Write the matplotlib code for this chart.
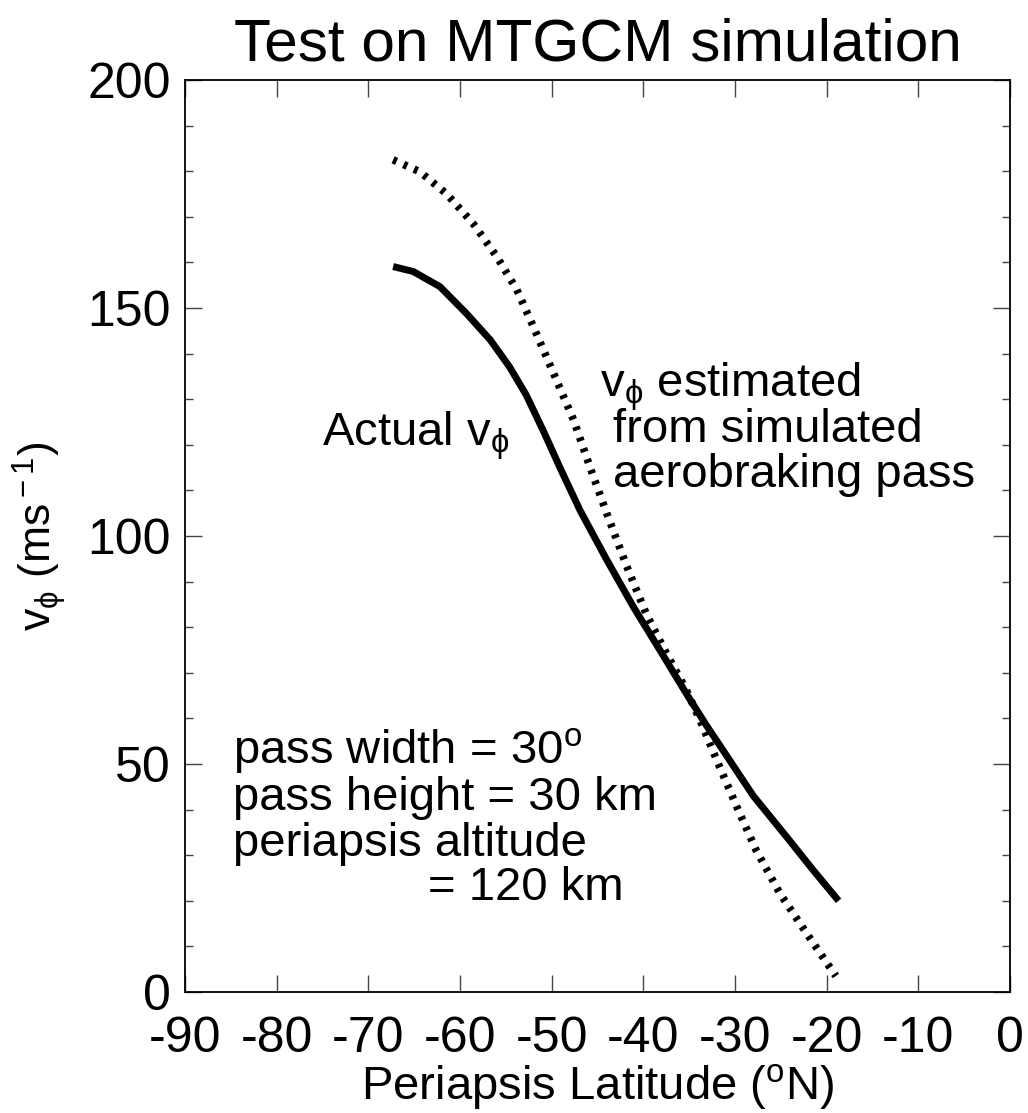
import numpy as np
import matplotlib
matplotlib.use("Agg")
import matplotlib.pyplot as plt
from matplotlib.ticker import MultipleLocator

plt.rcParams['font.family'] = ['Liberation Sans', 'DejaVu Sans']
plt.rcParams['mathtext.fontset'] = 'custom'
plt.rcParams['mathtext.rm'] = 'Liberation Sans'
plt.rcParams['mathtext.it'] = 'Liberation Sans'
plt.rcParams['axes.unicode_minus'] = False

# actual v_phi from the simulation (solid)
actual_lat = [-67.3, -65.1, -62.2, -59.3, -56.7, -54.6, -52.8, -50.9, -49.1, -46.9,
              -44.0, -41.1, -38.2, -35.3, -33.1, -31.7, -28.0, -24.4, -21.5, -18.7]
actual_v = [159.1, 158.0, 154.7, 148.8, 143.0, 137.1, 131.0, 123.0, 115.0, 105.6,
            94.8, 84.5, 75.0, 65.4, 58.4, 54.2, 43.0, 34.1, 26.8, 20.0]

# v_phi estimated from simulated aerobraking pass (dotted)
est_lat = [-67.3, -64.4, -61.5, -58.6, -56.0, -53.8, -52.0, -49.8, -47.6, -45.8,
           -44.0, -41.8, -39.7, -37.5, -35.3, -33.6, -32.0, -29.8, -27.7, -25.1,
           -22.2, -19.0]
est_v = [182.5, 179.9, 175.1, 168.6, 161.3, 154.0, 145.9, 135.7, 125.4, 115.0,
         105.0, 93.3, 83.0, 74.3, 66.2, 58.6, 50.9, 40.6, 31.1, 21.6,
         12.9, 3.5]

fig = plt.figure(figsize=(10.28, 11.13), dpi=100)
ax = fig.add_axes([0.18, 0.1087, 0.8025, 0.8194])

ax.plot(actual_lat, actual_v, color='black', lw=5, solid_capstyle='butt',
        solid_joinstyle='round')
ax.plot(est_lat, est_v, color='black', lw=5.5, linestyle=(0, (0.5, 1.0)),
        dash_capstyle='butt')

ax.set_xlim(-90, 0)
ax.set_ylim(0, 200)
ax.xaxis.set_major_locator(MultipleLocator(10))
ax.yaxis.set_major_locator(MultipleLocator(50))
ax.yaxis.set_minor_locator(MultipleLocator(10))
ax.tick_params(which='both', direction='in', top=True, right=True,
               labelsize=36, width=1.0, color='#444444')
ax.tick_params(which='major', length=12)
ax.tick_params(which='minor', length=6)
ax.tick_params(axis='x', pad=17)
ax.tick_params(axis='y', pad=10)
for s in ax.spines.values():
    s.set_linewidth(1.3)

ax.set_xlabel(r'Periapsis Latitude ($^{\rm o}$N)', fontsize=34, labelpad=0)
ax.set_ylabel(r'v$_\phi$ (ms$^{\rm -1}$)', fontsize=32, labelpad=14)
ax.set_title('Test on MTGCM simulation', fontsize=43.5, pad=14)

fs = 34
ax.text(-75.1, 119.8, r'Actual v$_\phi$', fontsize=fs)
ax.text(-44.7, 130.5, r'v$_\phi$ estimated', fontsize=fs)
ax.text(-43.3, 120.6, 'from simulated', fontsize=fs)
ax.text(-43.3, 110.7, 'aerobraking pass', fontsize=fs)

ax.text(-84.8, 50.2, r'pass width = 30$^{\rm o}$', fontsize=fs)
ax.text(-84.8, 39.9, 'pass height = 30 km', fontsize=fs)
ax.text(-84.8, 29.8, 'periapsis altitude', fontsize=fs)
ax.text(-63.5, 20.2, '= 120 km', fontsize=fs)

fig.savefig('out.png', dpi=100)
